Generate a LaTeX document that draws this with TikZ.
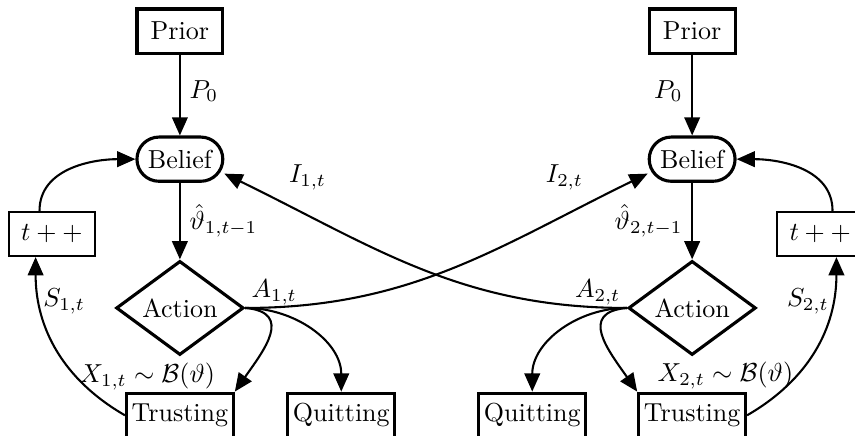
\documentclass[tikz,border=0pt]{standalone}
\usepackage{amsmath,amssymb}
\usepackage{tikz}
\usetikzlibrary{positioning,arrows.meta,shapes.geometric}
\usepackage{xcolor}

\begin{document}
\begin{tikzpicture}[>={Triangle[length=7pt,width=6pt]},thick,
  box/.style={draw,very thick,minimum width=33pt,minimum height=17pt,inner sep=2pt},
  beliefbox/.style={box,rounded corners=8.5pt},
  decision/.style={draw,very thick,diamond,minimum width=49pt,minimum height=33pt,inner sep=0pt}]
\useasboundingbox (0,0) rectangle (11.55,-5.88);
% player 1
\node[box] (prior1) at (2.43,-0.42) {Prior};
\node[beliefbox] (belief1) at (2.43,-2.15) {Belief};
\node[decision] (action1) at (2.43,-4.16) {Action};
\node[box,thick] (tpp1) at (0.70,-3.16) {$t++$};
\node[box] (trust1) at (2.43,-5.61) {Trusting};
\node[box] (quit1) at (4.61,-5.61) {Quitting};
\node (x1) at (1.99,-5.09) {$X_{1,t}\sim\mathcal{B}(\vartheta)$};
% player 2
\node[box] (prior2) at (9.35,-0.42) {Prior};
\node[beliefbox] (belief2) at (9.35,-2.15) {Belief};
\node[decision] (action2) at (9.35,-4.16) {Action};
\node[box,thick] (tpp2) at (11.08,-3.16) {$t++$};
\node[box] (trust2) at (9.35,-5.61) {Trusting};
\node[box] (quit2) at (7.19,-5.61) {Quitting};
\node (x2) at (9.80,-5.07) {$X_{2,t}\sim\mathcal{B}(\vartheta)$};

\draw[->] (prior1) -- node[pos=0.45,right] {$P_0$} (belief1);
\draw[->] (belief1) -- node[right] {$\hat{\vartheta}_{1,t-1}$} (action1);
\draw[->] (action1.east) to[out=-5,in=55,looseness=1.5] (trust1.north east);
\draw[->] (action1.east) to[out=0,in=90] (quit1.north);
\draw[->] (trust1.west) to[out=150,in=-90] node[pos=0.78,right,inner sep=1pt] {$S_{1,t}$} (tpp1.235);
\draw[->] (tpp1.118) to[out=90,in=180] (belief1.west);

\draw[->] (prior2) -- node[pos=0.45,left] {$P_0$} (belief2);
\draw[->] (belief2) -- node[left] {$\hat{\vartheta}_{2,t-1}$} (action2);
\draw[->] (action2.west) to[out=185,in=125,looseness=1.5] (trust2.north west);
\draw[->] (action2.west) to[out=180,in=90] (quit2.north);
\draw[->] (trust2.east) to[out=30,in=-90] node[pos=0.78,left,inner sep=1pt] {$S_{2,t}$} (tpp2.-55);
\draw[->] (tpp2.62) to[out=90,in=0] (belief2.east);

% crossing information flows
\draw[->] (action1.east) to[out=0,in=206]
  node[pos=0.06,above,inner sep=0.5pt] {$A_{1,t}$}
  node[pos=0.8,above=6pt] {$I_{2,t}$} (belief2.198);
\draw[->] (action2.west) to[out=180,in=-26]
  node[pos=0.06,above,inner sep=0.5pt] {$A_{2,t}$}
  node[pos=0.8,above=6pt] {$I_{1,t}$} (belief1.-18);
\end{tikzpicture}
\end{document}
